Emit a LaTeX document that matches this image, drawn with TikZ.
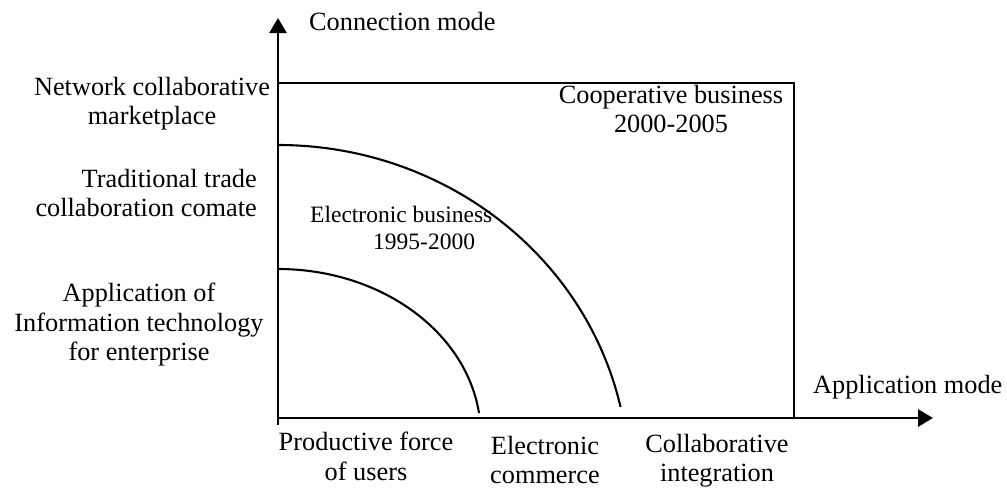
\documentclass[tikz,border=0pt]{standalone}
\usepackage{fontspec}
\setmainfont{Liberation Serif}
\usetikzlibrary{arrows.meta}
\begin{document}
\begin{tikzpicture}[x=1pt,y=-1pt,
  lbl/.style={font=\fontsize{26.3}{29.5}\selectfont, inner sep=0pt, align=center},
  smalllbl/.style={font=\fontsize{23.5}{27.6}\selectfont, inner sep=0pt, align=left},
  axisline/.style={line width=2.8pt, -{Triangle[length=15pt,width=17pt]}},
  frameline/.style={line width=2.8pt},
  arcline/.style={line width=2.1pt}]
\useasboundingbox (0,0) rectangle (1007,488);
% axes
\coordinate (ybot) at (278,425);
\coordinate (ytop) at (278,18);
\coordinate (O) at (278,418);
\coordinate (xend) at (933,418);
\coordinate (boxtr) at (794,83);
\draw[frameline] (278,418) rectangle (boxtr);
\draw[axisline] (ybot) -- (ytop);
\draw[axisline] (O) -- (xend);
% arcs
\coordinate (innerstart) at (278,269);
\coordinate (outerstart) at (278,145);
\draw[arcline] (innerstart) arc[start angle=90, end angle=7.6, x radius=202.8pt, y radius=166pt];
\draw[arcline] (outerstart) arc[start angle=90, end angle=12.6, x radius=351pt, y radius=335pt];
% axis titles
\node[lbl, anchor=base west] (ymode) at (309,30.7) {Connection mode};
\node[lbl, anchor=base west] (xmode) at (813,393) {Application mode};
% y labels
\node[lbl, anchor=north] (net) at (152,76.9) {Network collaborative\\marketplace};
\node[lbl, anchor=north east, align=right] (trad) at (257,168.9) {Traditional trade\\collaboration comate};
\node[lbl, anchor=north] (appl) at (139,282.9) {Application of\\Information technology\\for enterprise};
% x labels
\node[lbl, anchor=north] (prod) at (366,431.9) {Productive force\\of users};
\node[lbl, anchor=north] (ecom) at (545,436) {Electronic\\commerce};
\node[lbl, anchor=north] (collab) at (717,433.9) {Collaborative\\integration};
% region labels
\node[lbl, anchor=north] (coop) at (671,84.9) {Cooperative business\\2000-2005};
\node[smalllbl, anchor=north west] (ebus) at (310,205.8) {Electronic business\\\hspace*{63pt}1995-2000};
\end{tikzpicture}
\end{document}
